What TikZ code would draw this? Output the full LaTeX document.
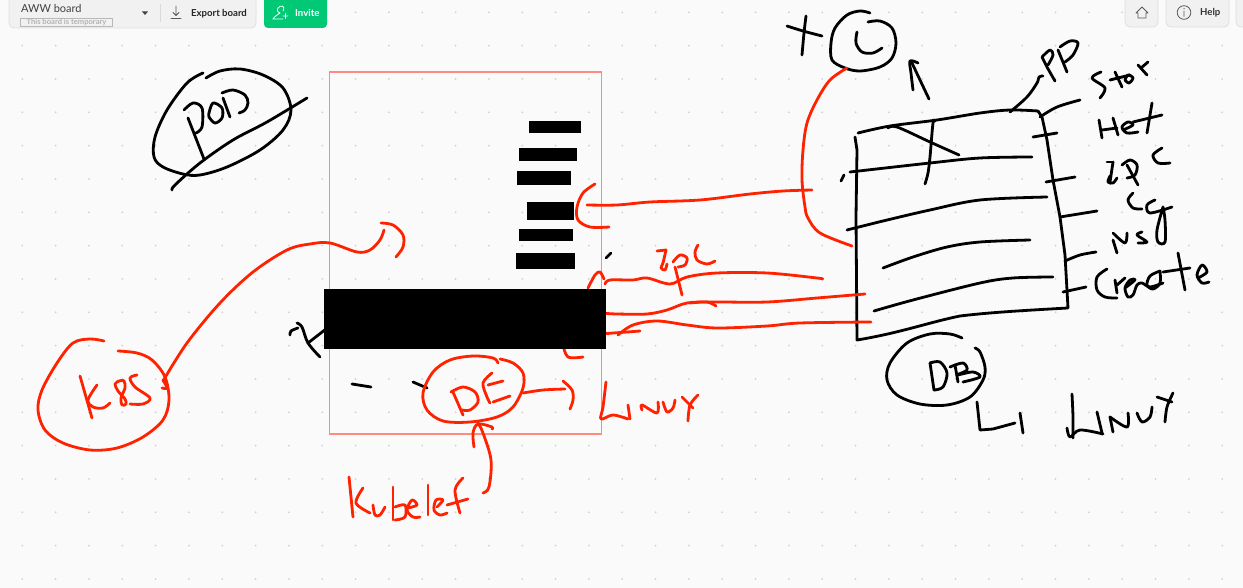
\documentclass[tikz,border=0pt]{standalone}
\usepackage{fontspec}
\setmainfont{Lato}
\definecolor{bgc}{HTML}{FAFAFA}
\definecolor{dotc}{HTML}{D2D2D2}
\definecolor{inkred}{HTML}{FF2200}
\definecolor{framec}{HTML}{FF8A7E}
\definecolor{barc}{HTML}{F1F1F1}
\definecolor{barline}{HTML}{DEDEDE}
\definecolor{greenc}{HTML}{00C875}
\tikzset{
  blk/.style={black,line width=2.8pt,line cap=round,line join=round},
  rd/.style={inkred,line width=2.8pt,line cap=round,line join=round},
  bar/.style={fill=barc,draw=barline,line width=.8pt,rounded corners=5pt},
  uitext/.style={inner sep=0pt,anchor=west,text=black!80},
  icon/.style={line width=.8pt,draw=black!65,line cap=round,line join=round},
}
\newcommand\kb[1]{\draw[blk] plot[smooth,tension=.55] coordinates {#1};}
\newcommand\kr[1]{\draw[rd] plot[smooth,tension=.55] coordinates {#1};}
\begin{document}
\begin{tikzpicture}[x=1pt,y=-1pt]
\path[use as bounding box,fill=bgc] (0,0) rectangle (1243,588);
% dot grid
\foreach \i in {0,...,36}{\foreach \j in {0,...,17}{
  \fill[dotc] ({22.3+33.33*\i},{12.3+33.33*\j}) circle (1);}}
% toolbar
\draw[bar] (9,-8) rectangle (256,28);
\node[uitext,font=\fontsize{11}{12}\selectfont,text=black!75] (boardname) at (21,8) {AWW board};
\draw[line width=.7pt,draw=black!28] (20.5,18) rectangle (112.5,26);
\node[inner sep=0pt,font=\bfseries\fontsize{7.6}{8}\selectfont,text=black!30] (temp) at (66.5,22.2) {This board is temporary};
\fill[black!75] (142,11.5) -- (148,11.5) -- (145,15) -- cycle;
\draw[line width=.7pt,black!15] (160.5,4) -- (160.5,22);
\draw[icon] (176,6) -- (176,15) (173,12.5) -- (176,15.5) -- (179,12.5) (171,18.5) -- (181,18.5);
\node[uitext,font=\bfseries\fontsize{9.6}{10}\selectfont,text=black!85] (export) at (191,13.5) {Export board};
\fill[greenc,rounded corners=4pt] (264,-8) rectangle (327,28);
\draw[white,line width=.8pt,line cap=round] (283,11) .. controls (286,5) and (280,5) .. (278,8) .. controls (276,11) and (279,13) .. (280,13) .. controls (277,15) and (274,17) .. (273,19) -- (283,19) (283,16) -- (288,16) (285.5,13.5) -- (285.5,18.5);
\node[uitext,font=\bfseries\fontsize{9.6}{10}\selectfont,text=white] (invite) at (295,13) {Invite};
\draw[bar] (1125,-8) rectangle (1158,27);
\draw[icon] (1136,13) -- (1142,7) -- (1148,13) -- (1146,13) -- (1146,18) -- (1138,18) -- (1138,13) -- cycle (1141,18) -- (1143,18);
\draw[bar] (1166,-8) rectangle (1229,27);
\draw[bar] (1236,-8) rectangle (1260,27);
\draw[icon] (1184,12.5) circle (6.8) (1184,11) -- (1184,16.5);
\fill[black!65] (1184,8.7) circle (.7);
\node[uitext,font=\bfseries\fontsize{9.6}{10}\selectfont,text=black!80] (help) at (1200,13) {Help};
% frame
\draw[framec,line width=1.3pt] (329.5,72) rectangle (601.5,434);
% POD
\kb{(203,73)(187,83)(167,110)(155,137)(154,157)(163,167)(183,174)(200,175)(227,167)(260,150)(283,130)(291,110)(283,88)(263,75)(240,69)(220,71)(206,78)}
\kb{(172,190)(175,185)(200,163)(233,140)(267,122)(307,98)}
\kb{(188,118)(204,159)}
\kb{(184,110)(193,103)(202,108)(202,127)(196,133)}
\kb{(209,113)(213,103)(222,108)(222,118)(215,123)(209,117)(209,113)}
\kb{(223,98)(230,117)}
\kb{(222,93)(233,90)(245,95)(248,103)(245,110)(239,113)}
% container C
\kb{(787,26)(803,31)(822,36)}
\kb{(806,16)(804,33)(802,55)}
\kb{(870,13)(860,11)(847,15)(835,28)(831,43)(832,60)(845,68)(860,71)(880,67)(892,58)(896,43)(892,28)(880,21)(868,22)}
\kb{(857,32)(856,43)(862,52)(873,53)(882,48)}
\kb{(929,99)(920,80)(912,63)}
\kb{(913,90)(911,73)(910,61)(918,63)}
% PP
\kb{(1010,112)(1027,97)(1037,83)(1039,77)(1043,76)}
\kb{(1042,57)(1047,67)(1055,81)}
\kb{(1042,57)(1050,50)(1053,55)(1048,65)}
\kb{(1058,50)(1067,72)}
\kb{(1060,47)(1070,41)(1078,43)(1073,55)(1065,62)}
% table
\kb{(858,133)(890,126)(937,120)(980,113)(1010,110)(1038,111)}
\draw[blk] (1038,111) -- (1042,117) -- (1047,140) -- (1053,180) -- (1060,217) -- (1065,255) -- (1068,308) .. controls (1013,311) and (985,313) .. (960,316) .. controls (930,322) and (900,333) .. (857,340) -- (856,217) -- (857,150) -- (855,137);
\kb{(850,172)(930,163)(980,158)(1032,157)}
\kb{(841,181)(844,175)}
\kb{(847,230)(883,221)(930,210)(980,200)(1047,197)}
\kb{(883,268)(913,257)(947,247)(980,242)(1030,240)}
\kb{(874,311)(913,300)(980,283)(1013,278)(1053,277)}
\kb{(888,128)(897,127)(930,142)(959,155)}
\kb{(935,121)(933,123)(930,157)(928,173)(925,184)}
% ticks
\kb{(1040,117)(1057,107)(1080,100)}
\kb{(1033,137)(1057,133)}
\kb{(1046,182)(1075,177)}
\kb{(1060,217)(1097,211)}
\kb{(1065,261)(1080,255)(1096,252)}
\kb{(1063,292)(1086,287)}
% Stor
\kb{(1101,72)(1092,78)(1105,88)(1100,98)}
\kb{(1115,72)(1122,87)}
\kb{(1110,80)(1130,75)}
\kb{(1125,80)(1128,75)(1133,78)(1129,83)(1125,80)}
\kb{(1138,65)(1147,75)}
\kb{(1141,68)(1148,62)}
% Net
\kb{(1099,120)(1102,138)}
\kb{(1113,118)(1118,135)}
\kb{(1102,130)(1117,128)}
\kb{(1123,130)(1133,125)(1128,122)(1122,127)(1127,133)(1138,132)}
\kb{(1152,103)(1147,133)}
\kb{(1133,122)(1162,115)}
% IPC
\kb{(1107,162)(1113,162)}
\kb{(1113,162)(1110,182)}
\kb{(1110,176)(1108,182)(1113,183)(1117,178)}
\kb{(1127,165)(1138,185)}
\kb{(1122,165)(1130,160)(1137,165)(1135,175)(1127,178)}
\kb{(1162,148)(1153,155)(1158,163)(1170,163)}
% cg
\kb{(1133,193)(1128,200)(1133,208)(1142,209)}
\kb{(1155,200)(1147,205)(1150,213)(1172,207)}
\kb{(1163,207)(1157,230)(1158,242)(1165,242)(1165,220)(1163,207)}
% NS
\kb{(1113,240)(1117,253)}
\kb{(1113,233)(1125,243)(1127,233)}
\kb{(1142,232)(1137,235)(1147,242)(1138,243)}
% Create
\kb{(1107,269)(1097,277)(1097,290)(1105,297)(1117,298)}
\kb{(1115,280)(1117,293)}
\kb{(1117,285)(1125,278)}
\kb{(1125,288)(1135,280)(1130,280)(1125,288)(1128,297)(1133,295)(1137,285)(1142,283)(1150,287)(1163,283)}
\kb{(1160,271)(1150,276)(1147,285)(1153,289)(1160,283)(1160,271)}
\kb{(1178,253)(1185,290)}
\kb{(1163,272)(1190,268)}
\kb{(1198,278)(1207,272)(1202,265)(1197,275)(1202,283)(1209,282)}
% DB
\kb{(962,338)(950,334)(930,334)(907,343)(890,363)(887,380)(897,395)(920,404)(947,405)(970,397)(983,380)(985,367)(980,352)(975,348)}
\kb{(930,363)(934,390)}
\kb{(930,363)(940,362)(947,373)(943,387)(934,390)}
\kb{(955,365)(958,382)}
\kb{(950,367)(963,363)(967,370)(957,375)(973,372)(980,377)(963,382)}
% L] Linux
\draw[blk] (977,402) -- (980,430) -- (993,429) -- (1015,423);
\kb{(1020,413)(1023,433)}
\kb{(1072,394)(1073,417)(1073,438)}
\kb{(1067,428)(1070,437)(1080,430)(1103,434)}
\kb{(1097,412)(1102,433)}
\kb{(1110,417)(1113,432)}
\kb{(1110,417)(1127,427)(1128,413)}
\kb{(1137,413)(1142,422)(1150,417)(1152,407)}
\kb{(1157,397)(1172,402)}
\kb{(1173,393)(1167,407)(1165,422)}
% black marks in frame
\kb{(606,258)(611,253)}
\kb{(352,384)(371,387)}
\kb{(413,382)(427,388)}
\kb{(290,335)(291,331)(298,328)}
\kb{(297,323)(302,327)(308,343)(320,357)}
\kb{(308,343)(326,329)}
% red lines
\kr{(847,68)(830,80)(817,100)(807,123)(803,150)(802,180)(805,207)(808,218)(820,233)(852,246)}
\kr{(595,184)(583,193)(577,207)(578,220)(590,227)(609,227)}
\kr{(587,205)(617,205)(650,202)(700,200)(750,194)(783,191)(812,190)}
\kr{(657,251)(666,250)}
\kr{(666,250)(663,263)(661,268)(665,270)(667,264)}
\kr{(675,267)(682,295)}
\kr{(673,262)(680,255)(687,258)(685,265)(678,267)}
\kr{(698,245)(695,252)(697,260)(707,264)(715,261)}
\kr{(605,284)(610,280)(633,280)(647,278)(670,284)(687,277)(717,273)(767,273)(817,278)(822,279)}
\kr{(588,288)(595,275)(600,272)(604,279)}
\kr{(600,313)(617,314)(647,314)(667,310)(687,303)(713,302)(767,302)(817,298)(865,294)}
\kr{(690,303)(707,302)(716,306)}
\kr{(600,334)(627,332)(640,331)}
\kr{(618,335)(633,325)(657,321)(687,325)(717,328)(767,326)(800,323)(871,322)}
\kr{(563,345)(568,357)(583,357)}
% black blocks
\fill[black] (529,121) rectangle (581,133);
\fill[black] (519,148) rectangle (577,161);
\fill[black] (517,171) rectangle (571,185);
\fill[black] (527,202) rectangle (574,220);
\fill[black] (519,229) rectangle (573,241);
\fill[black] (516,253) rectangle (575,269);
\fill[black] (324,289) rectangle (606,349);
% DE
\kr{(498,363)(493,358)(473,356)(450,360)(433,372)(423,393)(427,410)(443,421)(470,422)(497,417)(513,407)(523,388)(523,373)(513,363)(500,359)}
\kr{(453,392)(463,415)}
\kr{(451,392)(463,387)(475,392)(478,402)(470,410)(462,410)}
\kr{(492,373)(483,383)(487,397)(490,403)}
\kr{(488,385)(503,381)}
\kr{(493,402)(510,396)}
\kr{(523,393)(543,390)(565,389)}
\kr{(563,381)(572,390)(573,400)(570,409)}
\kr{(483,493)(489,487)(491,460)(483,433)(478,423)}
\kr{(474,447)(473,433)(478,424)(492,427)(492,429)}
% Linux red
\kr{(606,382)(603,407)(601,419)(613,415)(628,419)}
\kr{(628,405)(630,419)}
\kr{(642,410)(642,405)(657,413)(658,402)}
\kr{(663,402)(667,412)(673,408)(675,400)}
\kr{(682,397)(693,408)}
\kr{(698,395)(690,405)(688,421)}
% Kubelet
\kr{(349,477)(353,517)}
\kr{(363,488)(356,503)(370,513)}
\kr{(373,505)(375,515)(380,515)(385,507)}
\kr{(393,487)(393,520)}
\kr{(395,507)(405,505)(405,517)(395,520)}
\kr{(408,508)(417,505)(412,500)(407,510)(413,517)(420,517)}
\kr{(428,485)(428,515)}
\kr{(437,507)(443,500)(436,500)(434,510)(440,515)(447,513)}
\kr{(463,478)(455,490)(460,513)}
\kr{(447,505)(468,499)}
% K8S
\kr{(104,341)(90,339)(73,343)(57,363)(42,390)(38,410)(45,430)(63,443)(90,450)(117,448)(143,437)(163,420)(169,400)(165,377)(152,360)(137,353)(118,351)}
\kr{(80,376)(92,418)}
\kr{(97,385)(88,400)(93,407)(103,408)(110,403)}
\kr{(119,381)(115,384)(118,391)(125,399)(126,404)(122,405)(121,398)(125,388)(124,381)(119,381)}
\kr{(137,375)(130,378)(135,387)(150,398)(143,404)(130,404)}
\kr{(162,388)(167,388)(163,380)}
\kr{(163,381)(187,343)(220,303)(253,272)(287,250)(310,244)(330,243)(357,252)(370,250)(380,240)(384,230)}
\kr{(381,223)(393,225)(403,235)(403,247)(396,257)}
\end{tikzpicture}
\end{document}
